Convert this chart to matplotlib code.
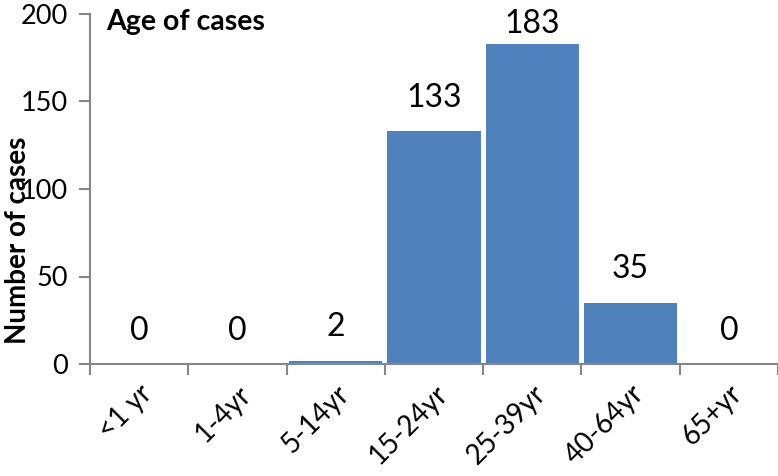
import matplotlib
matplotlib.use("Agg")
import matplotlib.pyplot as plt
import numpy as np

categories = ["<1 yr", "1-4yr", "5-14yr", "15-24yr", "25-39yr", "40-64yr", "65+yr"]
values = [0, 0, 2, 133, 183, 35, 0]
yticks = [0, 50, 100, 150, 200]

plt.rcParams['font.family'] = ['Lato', 'DejaVu Sans']

fig = plt.figure(figsize=(7.78, 4.76), dpi=100)
ax = fig.add_axes([90/778, 112/476, 688/778, 350/476])

x = np.arange(len(categories))
ax.bar(x, values, width=0.95, color="#4F81BD")

ax.set_xlim(-0.5, len(categories) - 0.5)
ax.set_ylim(0, 200)
ax.set_yticks(yticks)
ax.set_yticklabels([str(v) for v in yticks], fontsize=19.5)

# category labels at centres, ticks at boundaries
ax.set_xticks(x)
ax.set_xticklabels(categories, rotation=45, ha='right', va='top',
                   rotation_mode='anchor', fontsize=20)
ax.tick_params(axis='x', which='major', length=0, pad=12)
ax.set_xticks(np.arange(-0.5, len(categories)), minor=True)
ax.tick_params(axis='x', which='minor', length=8, color="#868686", width=1.5, direction='out')
ax.tick_params(axis='y', length=8, color="#868686", width=1.5, direction='out', pad=8)

for s in ['top', 'right']:
    ax.spines[s].set_visible(False)
for s in ['left', 'bottom']:
    ax.spines[s].set_color("#868686")
    ax.spines[s].set_linewidth(1.5)

# value labels above bars, kept inside the plot area
for xi, v in zip(x, values):
    ly = min(v + 19, 194.5)
    ax.text(xi, ly, str(v), ha='center', va='center', fontsize=23)

ax.set_ylabel("Number of cases", fontsize=20, fontweight='bold', zorder=5)
ax.yaxis.set_label_coords(-0.105, 0.354)
ax.yaxis.label.set_va('center')

ax.text(106/778, 1 - 22/476, "Age of cases", transform=fig.transFigure,
        fontsize=20.5, fontweight='bold', ha='left', va='center')

fig.savefig("out.png", dpi=100)
